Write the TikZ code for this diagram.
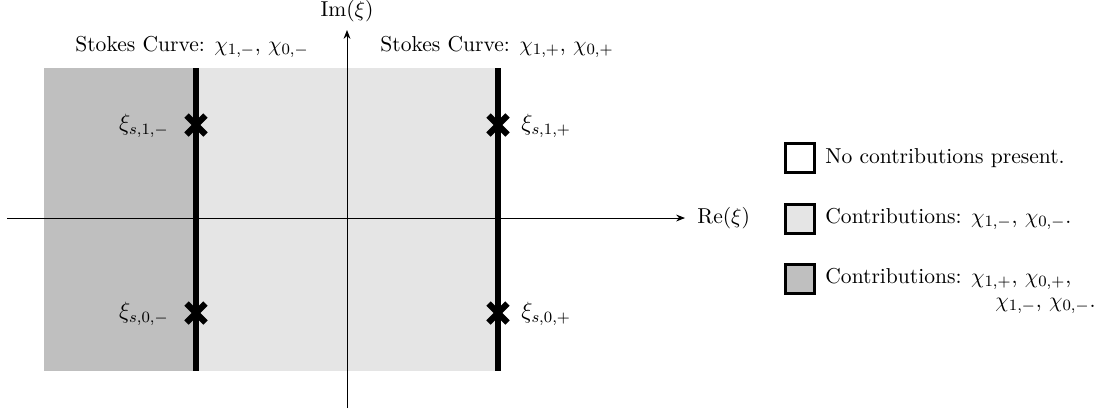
\documentclass[tikz,border=0pt]{standalone}
\usetikzlibrary{arrows.meta}
\definecolor{darkreg}{HTML}{BFBFBF}
\definecolor{lightreg}{HTML}{E5E5E5}
\begin{document}
\begin{tikzpicture}[x=0.508pt,y=-0.508pt,
  font=\fontsize{10.95pt}{13.6pt}\selectfont,
  axis/.style={line width=0.5pt,-{Stealth[length=4.5pt,width=3.5pt]}},
  stokesline/.style={line width=2.6pt},
  crossline/.style={line width=3.2pt},
  ptlabel/.style={inner sep=0pt,font=\large},
  legbox/.style={draw,line width=1.3pt,minimum width=14.5pt,minimum height=14.5pt,inner sep=0pt},
  legtext/.style={anchor=west,inner sep=0pt}]
\useasboundingbox (0,0) rectangle (1111,411);
% regions
\fill[darkreg] (44,68) rectangle (196,371);
\fill[lightreg] (196,68) rectangle (498,371);
% axes
\coordinate (xs) at (7,218);
\coordinate (xe) at (685,218);
\coordinate (ys) at (347,408);
\coordinate (ye) at (347,30);
\draw[axis] (xs) -- (xe);
\draw[axis] (ys) -- (ye);
\node[anchor=west,inner sep=0pt] (re) at (697,218) {$\mathrm{Re}(\xi)$};
\node[anchor=base,inner sep=0pt] (im) at (347,16) {$\mathrm{Im}(\xi)$};
% Stokes lines
\coordinate (lt) at (196,68);
\coordinate (lb) at (196,371);
\coordinate (rt) at (498,68);
\coordinate (rb) at (498,371);
\draw[stokesline] (lt) -- (lb);
\draw[stokesline] (rt) -- (rb);
\node[anchor=base,inner sep=0pt] (sl) at (192,51) {Stokes Curve: $\chi_{1,-}$, $\chi_{0,-}$};
\node[anchor=base,inner sep=0pt] (sr) at (497,51) {Stokes Curve: $\chi_{1,+}$, $\chi_{0,+}$};
% crosses
\coordinate (c1m) at (196,125);
\coordinate (c0m) at (196,313);
\coordinate (c1p) at (498,125);
\coordinate (c0p) at (498,313);
\foreach \c in {c1m,c0m,c1p,c0p}{
  \draw[crossline] (\c) +(-9.5,-9.5) -- +(9.5,9.5);
  \draw[crossline] (\c) +(-9.5,9.5) -- +(9.5,-9.5);
}
\node[ptlabel,anchor=east] (l1m) at (169,126) {$\xi_{s,1,-}$};
\node[ptlabel,anchor=east] (l0m) at (169,314) {$\xi_{s,0,-}$};
\node[ptlabel,anchor=west] (l1p) at (521,126) {$\xi_{s,1,+}$};
\node[ptlabel,anchor=west] (l0p) at (521,314) {$\xi_{s,0,+}$};
% legend
\node[legbox,fill=white] (b1) at (800,158) {};
\node[legbox,fill=lightreg] (b2) at (800,219) {};
\node[legbox,fill=darkreg] (b3) at (800,279) {};
\node[legtext] (t1) at (825,158) {No contributions present.};
\node[legtext] (t2) at (825,219) {Contributions: $\chi_{1,-}$, $\chi_{0,-}$.};
\node[legtext] (t3) at (825,279) {Contributions: $\chi_{1,+}$, $\chi_{0,+}$,};
\node[legtext] (t3b) at (995,306) {$\chi_{1,-}$, $\chi_{0,-}$.};
\end{tikzpicture}
\end{document}
